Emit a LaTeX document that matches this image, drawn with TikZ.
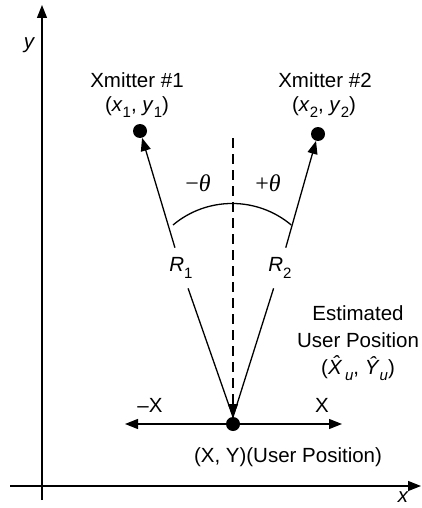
\documentclass[tikz,border=0pt]{standalone}
\usepackage{fontspec}
\setmainfont{Liberation Sans}
\newfontfamily\serifgr{Liberation Serif}
\usetikzlibrary{arrows.meta}
\newcommand\subs[1]{\raisebox{-0.3em}{\fontsize{15}{15}\selectfont #1}}
\begin{document}
\begin{tikzpicture}[x=1pt,y=-1pt,
  lbl/.style={font=\fontsize{20.5}{27}\selectfont, inner sep=0pt},
  tip/.style={-{Triangle[length=13pt,width=10pt]}},
  ln/.style={line width=1.3pt},
  dot/.style={circle, fill=black, minimum size=14pt, inner sep=0pt},
  rl/.style={lbl, inner xsep=2pt, inner ysep=10pt},
  th/.style={inner sep=0pt, font=\fontsize{24}{26}\serifgr}
]
\useasboundingbox (0,0) rectangle (421,508);
% axes
\coordinate (yb) at (42,500);
\coordinate (yt) at (42,5);
\draw[ln,tip] (yb) -- (yt);
\coordinate (xl) at (10,486);
\coordinate (xr) at (421,486);
\draw[ln,tip] (xl) -- (xr);
\node[lbl] (ylab) at (29,45) {\itshape y};
\node[lbl] (xlab) at (403,497) {\itshape x};
% dots
\node[dot] (x1) at (140,131) {};
\node[dot] (x2) at (318,134) {};
\node[dot] (u) at (233,424) {};
% transmitter labels
\node[lbl] (x1n) at (137,80) {Xmitter \#1};
\node[lbl] (x1c) at (137,107) {(\textit{x}\subs{1}, \textit{y}\subs{1})};
\node[lbl] (x2n) at (325,80) {Xmitter \#2};
\node[lbl] (x2c) at (324,107) {(\textit{x}\subs{2}, \textit{y}\subs{2})};
% dashed vertical
\coordinate (ut) at (233,417);
\coordinate (dt) at (233,138);
\draw[ln, dash pattern=on 10pt off 6pt, tip] (dt) -- (ut);
% range lines
\node[rl] (r1) at (181,268) {\textit{R}\subs{1}};
\node[rl] (r2) at (280,268) {\textit{R}\subs{2}};
\draw[ln] (ut) -- (r1);
\draw[ln,tip] (r1) -- (x1);
\draw[ln] (ut) -- (r2);
\draw[ln,tip] (r2) -- (x2);
% arc
\coordinate (a1) at (173,225);
\draw[ln] (a1) arc[start angle=130, end angle=50, radius=92pt];
\node[th] (mt) at (198,183) {−\textit{θ}};
\node[th] (pt) at (268,183) {+\textit{θ}};
% horizontal
\coordinate (hl) at (125,424);
\coordinate (hr) at (342,424);
\draw[ln,tip] (u) -- (hl);
\draw[ln,tip] (u) -- (hr);
\node[lbl] (mx) at (150,405) {–X};
\node[lbl] (px) at (322,405) {X};
\node[lbl] (up) at (288,457) {(X, Y)(User Position)};
% estimated
\node[lbl, align=center] (est) at (358,343) {Estimated\\User Position\\(\textit{\^X}\subs{\textit{u}}, \textit{\^Y}\subs{\textit{u}})};
\end{tikzpicture}
\end{document}
